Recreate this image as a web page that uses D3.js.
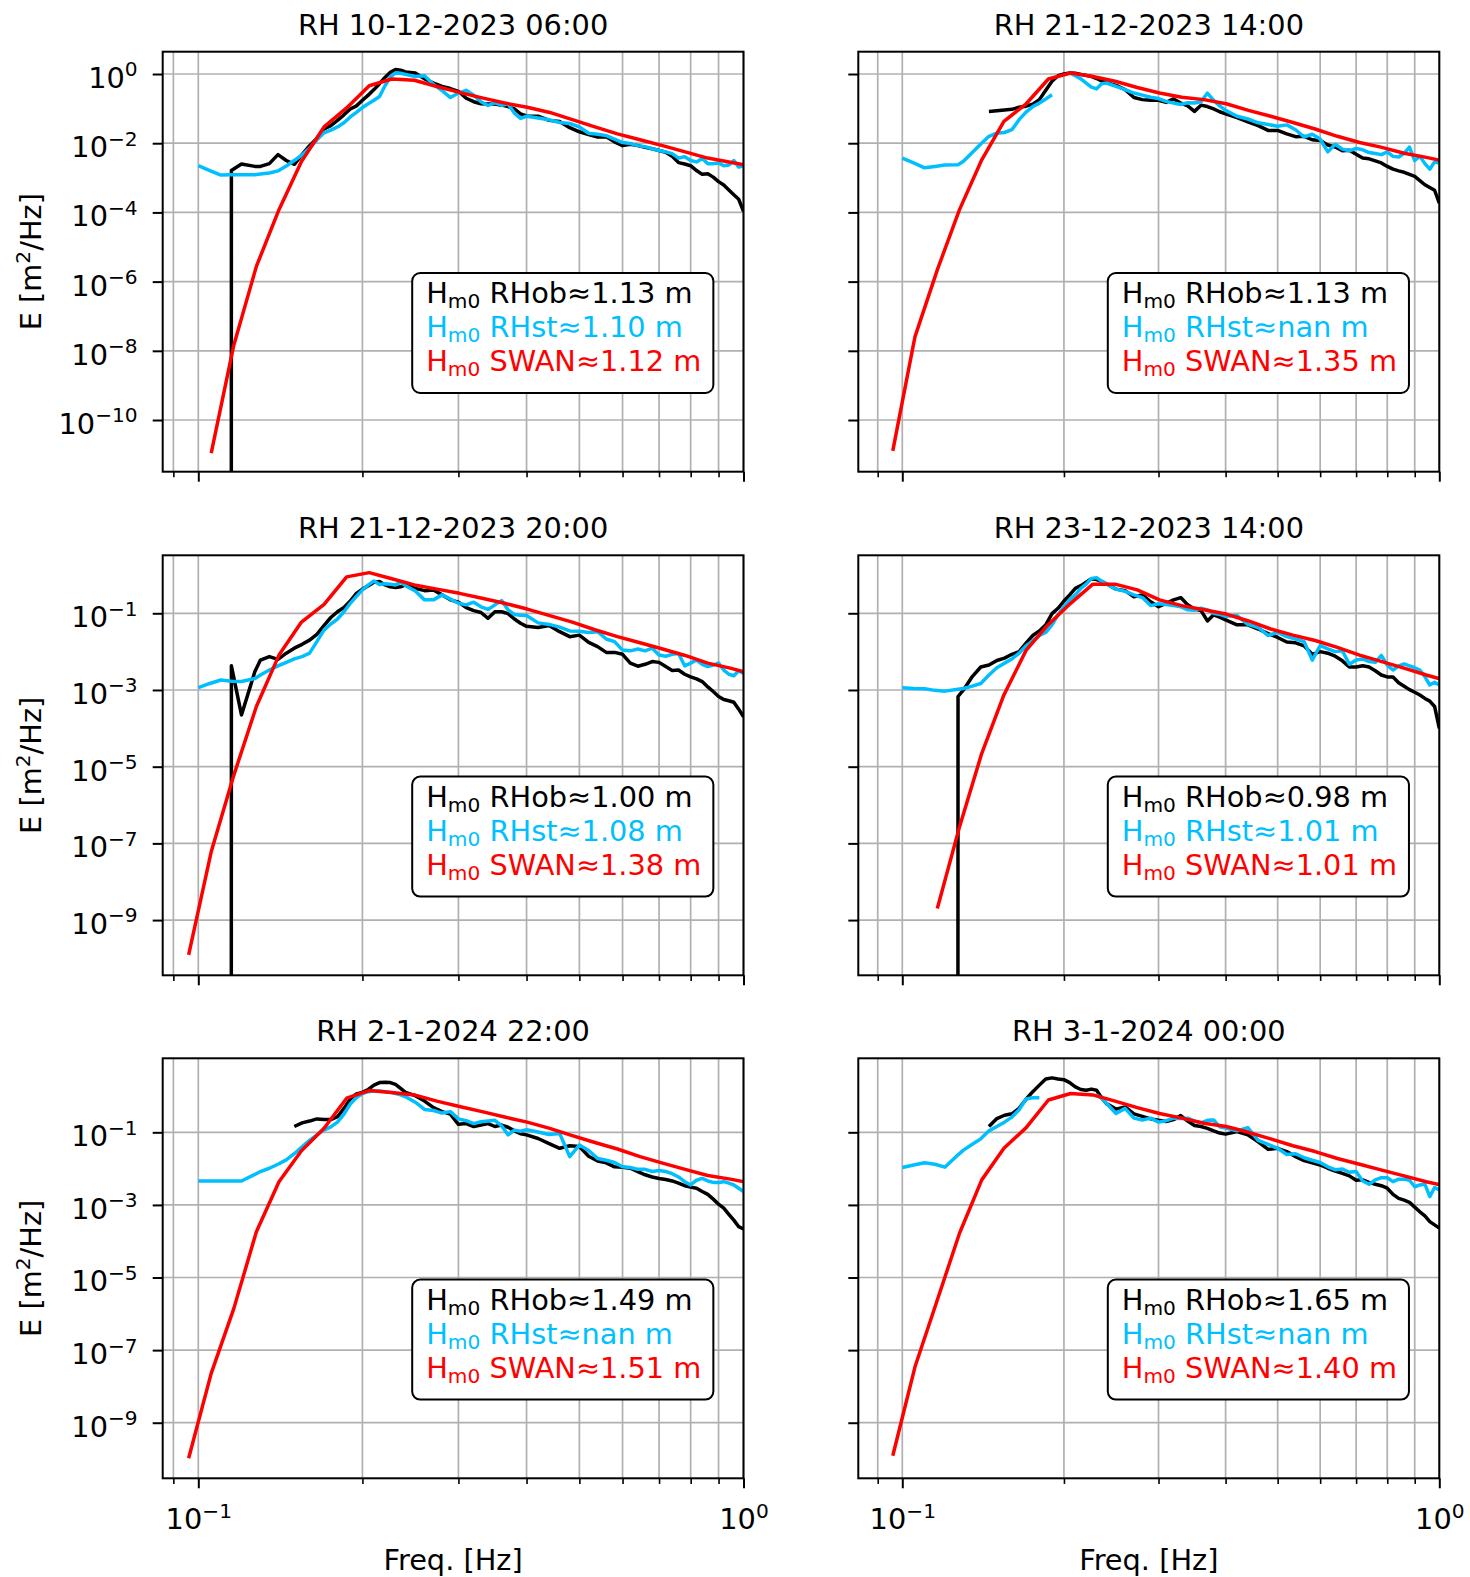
<!DOCTYPE html>
<html><head><meta charset="utf-8">
<script src="https://cdn.jsdelivr.net/npm/d3@7"></script>
<style>
body{margin:0;background:#fff;}
svg{display:block;font-family:"DejaVu Sans",sans-serif;}
</style></head><body>
<svg id="chart" width="1470" height="1577"></svg>
<script>
// ---------- DATA (energy density stored as log10(E [m^2/Hz]); -Infinity = zero density; null = missing) ----------
const obsFreq = [0.10,0.105,0.11,0.115,0.12,0.127,0.13,0.135,0.14,0.145,0.15,0.155,0.16,0.165,0.17,0.175,0.18,0.185,0.19,0.195,0.20,0.205,0.21,0.215,0.22,0.225,0.23,0.235,0.24,
 0.25,0.26,0.27,0.28,0.29,0.30,0.31,0.32,0.33,0.34,0.35,0.36,0.37,0.38,0.39,0.40,
 0.42,0.44,0.46,0.48,0.50,0.52,0.54,0.56,0.58,0.60,0.62,0.64,0.66,0.68,0.70,0.72,0.74,0.76,0.78,0.80,0.82,0.84,0.86,0.88,0.90,0.92,0.94,0.96,0.98,1.00];
const swanFreq = [0.0960,0.1056,0.1162,0.1278,0.1406,0.1546,0.1701,0.1871,0.2058,0.2264,0.2490,0.2739,0.3013,0.3315,0.3646,0.4011,0.4412,0.4853,0.5338,0.5872,0.6459,0.7105,0.7816,0.8597,0.9457,1.0403];

const obsLog1 = [null,null,-Infinity,-2.79,-2.60,-2.67,-2.67,-2.59,-2.33,-2.50,-2.61,-2.33,-2.07,-1.86,-1.59,-1.49,-1.34,-1.18,-1.01,-0.92,-0.76,-0.61,-0.45,-0.28,-0.10,0.05,0.13,0.11,0.06,
 0.03,-0.14,-0.26,-0.36,-0.42,-0.50,-0.70,-0.80,-0.86,-0.87,-0.87,-0.90,-0.94,-1.01,-1.15,-1.21,
 -1.22,-1.34,-1.37,-1.55,-1.67,-1.75,-1.82,-1.81,-1.96,-2.07,-2.03,-2.07,-2.12,-2.16,-2.21,-2.26,-2.38,-2.56,-2.60,-2.65,-2.79,-2.90,-2.88,-2.98,-3.11,-3.21,-3.35,-3.49,-3.62,-3.97];
const stLog1 = [-2.65,-2.79,-2.92,-2.91,-2.91,-2.91,-2.89,-2.86,-2.80,-2.66,-2.50,-2.34,-2.14,-1.90,-1.70,-1.62,-1.53,-1.41,-1.24,-1.11,-0.97,-0.86,-0.76,-0.65,-0.34,-0.09,0.03,0.02,-0.01,
 -0.07,-0.05,-0.30,-0.48,-0.68,-0.55,-0.47,-0.61,-0.80,-0.91,-0.83,-0.90,-0.87,-1.13,-1.28,-1.22,
 -1.27,-1.32,-1.40,-1.43,-1.53,-1.71,-1.74,-1.78,-1.88,-1.98,-2.01,-2.07,-2.10,-2.16,-2.21,-2.25,-2.30,-2.43,-2.39,-2.50,-2.54,-2.44,-2.59,-2.59,-2.57,-2.65,-2.63,-2.50,-2.69,-2.65];
const swanLog1 = [null,-10.96,-7.83,-5.56,-3.92,-2.53,-1.53,-0.98,-0.34,-0.145,-0.18,-0.36,-0.53,-0.69,-0.84,-0.96,-1.11,-1.32,-1.53,-1.73,-1.90,-2.07,-2.25,-2.43,-2.55,-2.67];

const obsLog2 = [null,null,null,null,null,null,null,null,null,-1.08,-1.06,-1.04,-1.02,-0.96,-0.93,-0.87,-0.74,-0.47,-0.21,-0.05,0.00,0.03,0.02,-0.01,-0.04,-0.07,-0.13,-0.20,-0.25,
 -0.33,-0.45,-0.68,-0.74,-0.76,-0.76,-0.82,-0.72,-0.84,-0.92,-1.08,-0.90,-0.94,-1.01,-1.09,-1.15,
 -1.26,-1.38,-1.49,-1.63,-1.63,-1.73,-1.81,-1.80,-1.90,-1.92,-2.05,-2.11,-2.22,-2.20,-2.32,-2.43,-2.45,-2.51,-2.57,-2.67,-2.75,-2.80,-2.84,-2.90,-2.96,-3.08,-3.20,-3.28,-3.36,-3.73];
const stLog2 = [-2.43,-2.57,-2.71,-2.67,-2.63,-2.62,-2.52,-2.27,-2.02,-1.80,-1.71,-1.69,-1.61,-1.32,-1.10,-0.94,-0.84,-0.72,-0.60,null,null,0.03,-0.05,-0.14,-0.26,-0.38,-0.43,-0.28,-0.26,
 -0.36,-0.45,-0.55,-0.61,-0.67,-0.71,-0.79,-0.84,-0.88,-0.83,-0.84,-0.80,-0.55,-0.76,-0.92,-1.05,
 -1.22,-1.30,-1.41,-1.46,-1.51,-1.47,-1.61,-1.82,-1.74,-1.88,-2.25,-2.03,-2.17,-2.22,-2.15,-2.19,-2.27,-2.30,-2.33,-2.25,-2.38,-2.40,-2.29,-2.11,-2.50,-2.38,-2.59,-2.75,-2.54,-2.57];
const swanLog2 = [-10.89,-7.59,-5.66,-3.92,-2.48,-1.37,-0.86,-0.145,0.03,-0.07,-0.21,-0.39,-0.55,-0.67,-0.74,-0.86,-1.05,-1.22,-1.40,-1.59,-1.80,-1.98,-2.12,-2.29,-2.41,-2.54];

const obsLog3 = [null,null,-Infinity,-2.37,-3.65,-2.52,-2.22,-2.13,-2.20,-2.04,-1.91,-1.81,-1.70,-1.55,-1.32,-1.11,-0.96,-0.85,-0.68,-0.48,-0.37,-0.28,-0.19,-0.17,-0.26,-0.31,-0.33,-0.31,-0.26,
 -0.35,-0.41,-0.39,-0.52,-0.65,-0.71,-0.85,-0.93,-0.98,-1.13,-0.96,-0.96,-1.01,-1.15,-1.26,-1.34,
 -1.37,-1.32,-1.48,-1.61,-1.57,-1.76,-1.87,-2.02,-2.02,-2.07,-2.30,-2.38,-2.33,-2.26,-2.28,-2.39,-2.49,-2.48,-2.59,-2.66,-2.71,-2.78,-2.92,-3.04,-3.17,-3.25,-3.28,-3.32,-3.50,-3.70];
const stLog3 = [-2.94,-2.83,-2.74,-2.77,-2.78,-2.70,-2.61,-2.48,-2.37,-2.28,-2.19,-2.13,-2.04,-1.74,-1.44,-1.28,-1.15,-0.96,-0.74,-0.56,-0.39,-0.26,-0.16,-0.25,-0.23,-0.24,-0.26,-0.19,-0.28,
 -0.42,-0.65,-0.65,-0.52,-0.63,-0.74,-0.78,-0.71,-0.83,-0.90,-0.78,-0.67,-0.91,-1.03,-1.05,-1.06,
 -1.25,-1.29,-1.36,-1.46,-1.47,-1.50,-1.48,-1.67,-1.74,-1.96,-1.98,-1.93,-1.98,-1.91,-2.09,-2.12,-2.07,-2.05,-2.37,-2.30,-2.22,-2.33,-2.39,-2.35,-2.30,-2.48,-2.59,-2.63,-2.50,-2.57];
const swanLog3 = [-9.91,-7.22,-5.22,-3.43,-2.09,-1.23,-0.77,-0.05,0.06,-0.10,-0.26,-0.37,-0.48,-0.61,-0.74,-0.89,-1.06,-1.23,-1.43,-1.61,-1.77,-1.93,-2.10,-2.30,-2.43,-2.59];

const obsLog4 = [null,null,null,null,-Infinity,-3.17,-3.00,-2.65,-2.40,-2.35,-2.23,-2.17,-2.07,-2.00,-1.78,-1.58,-1.46,-1.30,-1.01,-0.87,-0.68,-0.52,-0.35,-0.28,-0.19,-0.10,-0.12,-0.17,-0.23,
 -0.37,-0.41,-0.57,-0.52,-0.70,-0.83,-0.74,-0.65,-0.59,-0.78,-0.89,-0.93,-1.20,-1.04,-1.10,-1.17,
 -1.30,-1.30,-1.41,-1.53,-1.63,-1.75,-1.77,-1.85,-2.07,-2.00,-2.04,-2.12,-2.24,-2.40,-2.40,-2.37,-2.40,-2.50,-2.61,-2.66,-2.66,-2.81,-2.90,-2.99,-3.06,-3.13,-3.22,-3.29,-3.43,-4.00];
const stLog4 = [-2.94,-2.96,-2.97,-3.01,-3.03,-2.98,-2.96,-2.90,-2.83,-2.61,-2.42,-2.30,-2.19,-2.04,-1.85,-1.72,-1.58,-1.50,-1.30,-1.04,-0.83,-0.65,-0.52,-0.35,-0.24,-0.09,-0.07,-0.16,-0.23,
 -0.37,-0.43,-0.52,-0.59,-0.80,-0.75,-0.77,-0.80,-0.83,-0.91,-0.92,-0.87,-0.91,-1.00,-1.03,-1.08,
 -1.06,-1.29,-1.37,-1.58,-1.50,-1.61,-1.67,-1.74,-2.22,-1.84,-1.93,-2.00,-1.98,-2.33,-2.22,-2.19,-2.26,-2.28,-2.10,-2.35,-2.48,-2.37,-2.32,-2.37,-2.42,-2.48,-2.65,-2.87,-2.80,-2.87];
const swanLog4 = [null,null,-8.70,-6.57,-4.65,-3.13,-1.96,-1.29,-0.74,-0.24,-0.24,-0.39,-0.65,-0.80,-0.91,-1.02,-1.20,-1.41,-1.57,-1.71,-1.89,-2.09,-2.26,-2.43,-2.61,-2.77];

const obsLog5 = [null,null,null,null,null,null,null,null,null,null,-0.84,-0.74,-0.69,-0.63,-0.65,-0.65,-0.57,-0.34,-0.08,0.06,0.10,0.18,0.30,0.37,0.38,0.37,0.32,0.21,0.10,
 0.01,-0.14,-0.32,-0.43,-0.50,-0.78,-0.76,-0.84,-0.80,-0.76,-0.84,-0.80,-0.86,-0.96,-1.04,-1.07,
 -1.17,-1.31,-1.44,-1.37,-1.39,-1.66,-1.79,-1.84,-1.95,-1.96,-1.99,-2.08,-2.17,-2.23,-2.27,-2.30,-2.34,-2.40,-2.47,-2.51,-2.54,-2.63,-2.71,-2.84,-2.98,-3.09,-3.26,-3.42,-3.60,-3.66];
const stLog5 = [-2.34,-2.34,-2.34,-2.34,-2.34,-2.16,-2.08,-1.99,-1.88,-1.76,-1.59,-1.40,-1.22,-1.07,-0.94,-0.85,-0.72,-0.50,-0.22,-0.04,0.07,0.12,0.14,0.14,0.12,0.10,0.07,0.03,-0.02,
 -0.17,-0.37,-0.40,-0.47,-0.43,-0.63,-0.68,-0.76,-0.71,-0.69,-0.67,-0.82,-1.07,-0.94,-0.97,-0.93,
 -0.99,-1.06,-1.03,-1.67,-1.35,-1.50,-1.72,-1.77,-1.83,-1.95,-1.97,-2.02,-2.02,-2.08,-2.05,-2.08,-2.14,-2.23,-2.36,-2.45,-2.32,-2.27,-2.34,-2.38,-2.38,-2.36,-2.40,-2.45,-2.54,-2.63];
const swanLog5 = [-9.98,-7.64,-5.85,-3.74,-2.36,-1.51,-0.89,-0.06,0.15,0.10,0.03,-0.14,-0.29,-0.43,-0.58,-0.72,-0.89,-1.09,-1.28,-1.46,-1.67,-1.85,-2.02,-2.19,-2.29,-2.41];

const obsLog6 = [null,null,null,null,null,null,null,null,null,-0.84,-0.62,-0.53,-0.49,-0.34,-0.09,0.12,0.30,0.47,0.50,0.47,0.45,0.37,0.25,0.18,0.16,0.19,0.16,-0.05,-0.21,
 -0.36,-0.30,-0.49,-0.56,-0.63,-0.67,-0.70,-0.65,-0.54,-0.69,-0.81,-0.84,-0.89,-0.96,-1.02,-1.05,
 -0.98,-1.07,-1.26,-1.47,-1.44,-1.53,-1.67,-1.78,-1.84,-1.90,-1.99,-2.07,-2.13,-2.20,-2.32,-2.31,-2.38,-2.43,-2.47,-2.54,-2.71,-2.82,-2.87,-2.93,-3.06,-3.19,-3.30,-3.46,-3.55,-3.64];
const stLog6 = [-1.97,-1.90,-1.84,-1.88,-1.96,-1.62,-1.49,-1.33,-1.18,-0.96,-0.84,-0.72,-0.58,-0.38,-0.08,-0.05,-0.05,null,null,null,null,null,null,null,null,null,0.03,-0.06,-0.20,
 -0.48,-0.34,-0.61,-0.66,-0.61,-0.72,-0.68,-0.61,-0.62,-0.61,-0.69,-0.74,-0.67,-0.66,-0.85,-0.88,
 -0.96,-0.87,-1.22,-1.33,-1.44,-1.61,-1.59,-1.70,-1.77,-1.83,-1.95,-2.03,-2.01,-2.10,-2.08,-2.34,-2.43,-2.31,-2.25,-2.25,-2.36,-2.29,-2.29,-2.32,-2.50,-2.45,-2.43,-2.77,-2.52,-2.59];
const swanLog6 = [-9.91,-7.46,-5.62,-3.78,-2.31,-1.44,-0.87,-0.11,0.07,0.03,-0.14,-0.32,-0.48,-0.61,-0.75,-0.84,-1.00,-1.18,-1.37,-1.53,-1.72,-1.88,-2.04,-2.20,-2.36,-2.50];

const titles = ["RH 10-12-2023 06:00","RH 21-12-2023 14:00","RH 21-12-2023 20:00","RH 23-12-2023 14:00","RH 2-1-2024 22:00","RH 3-1-2024 00:00"];
const hm0Obs  = ["1.13","1.13","1.00","0.98","1.49","1.65"];
const hm0St   = ["1.10","nan","1.08","1.01","nan","nan"];
const hm0Swan = ["1.12","1.35","1.38","1.01","1.51","1.40"];
const seriesNames = ["RHob","RHst","SWAN"];
const yTickExp = [[0,-2,-4,-6,-8,-10],[-1,-3,-5,-7,-9],[-1,-3,-5,-7,-9]];
const xMajorTicks = [0.1, 1];
const xMajorTickExp = [-1, 0];
const xMinorTicks = [0.09,0.2,0.3,0.4,0.5,0.6,0.7,0.8,0.9];

const obsSets = [obsLog1,obsLog2,obsLog3,obsLog4,obsLog5,obsLog6];
const stSets = [stLog1,stLog2,stLog3,stLog4,stLog5,stLog6];
const swanSets = [swanLog1,swanLog2,swanLog3,swanLog4,swanLog5,swanLog6];

// ---------- LAYOUT ----------
const colX0 = [162.7, 858.3], plotW = [580.8, 581];
const rowY0 = [51.7, 555.3, 1058.3], plotH = 420;
const xDomains = [[0.08604, 1.0], [0.08281, 1.0]];
const yDomainExp = [[-11.494, 0.645], [-10.44, 0.512], [-10.531, 1.039]];
const COL = {obs:"#000000", st:"#00bfff", swan:"#ff0000"};
const FS = 28.8, FS_LEG = 28.8;

const svg = d3.select("#chart");
svg.append("rect").attr("width",1470).attr("height",1577).attr("fill","#fff");

function supText(sel, base, exp, fs){
  sel.text(null);
  sel.append("tspan").attr("font-size", fs).text(base);
  sel.append("tspan").attr("font-size", fs*0.7).attr("dy", -fs*0.4).text(exp < 0 ? "\u2212" + (-exp) : String(exp));
}

titles.forEach((title, i) => {
  const col = i % 2, row = Math.floor(i / 2);
  const W = plotW[col], H = plotH;
  const g = svg.append("g").attr("transform", `translate(${colX0[col]},${rowY0[row]})`);
  const x = d3.scaleLog().domain(xDomains[col]).range([0, W]);
  const y = d3.scaleLog().domain(yDomainExp[row].map(e => Math.pow(10, e))).range([H, 0]);

  const cid = "clip" + i;
  g.append("clipPath").attr("id", cid).append("rect").attr("width", W).attr("height", H);

  // grid
  const grid = g.append("g").attr("stroke", "#b0b0b0").attr("stroke-width", 1.7);
  grid.selectAll(".gx").data(xMajorTicks.concat(xMinorTicks)).join("line")
    .attr("x1", d => x(d)).attr("x2", d => x(d)).attr("y1", 0).attr("y2", H);
  grid.selectAll(".gy").data(yTickExp[row]).join("line")
    .attr("x1", 0).attr("x2", W).attr("y1", d => y(Math.pow(10, d))).attr("y2", d => y(Math.pow(10, d)));

  // series
  const yv = v => v === -Infinity ? H + 40000 : y(Math.pow(10, v));
  const line = d3.line().defined(d => d.v !== null).x(d => x(d.f)).y(d => yv(d.v));
  const lines = g.append("g").attr("clip-path", `url(#${cid})`).attr("fill", "none")
    .attr("stroke-width", 3.5).attr("stroke-linejoin", "round").attr("stroke-linecap", "butt");
  const mk = (fr, vals) => fr.map((f, k) => ({f, v: vals[k] === undefined ? null : vals[k]}));
  lines.append("path").attr("d", line(mk(obsFreq, obsSets[i]))).attr("stroke", COL.obs);
  lines.append("path").attr("d", line(mk(obsFreq, stSets[i]))).attr("stroke", COL.st);
  lines.append("path").attr("d", line(mk(swanFreq, swanSets[i]))).attr("stroke", COL.swan);

  // y axis
  const ya = g.append("g")
    .call(d3.axisLeft(y).tickValues(yTickExp[row].map(e => Math.pow(10, e))).tickSize(10).tickPadding(15).tickFormat(() => ""));
  ya.attr("font-size", FS).attr("font-family", "DejaVu Sans");
  ya.select(".domain").remove();
  ya.selectAll(".tick line").attr("stroke", "#000").attr("stroke-width", 2);
  ya.selectAll(".tick text").attr("fill", "#000").attr("dy", 0).attr("y", 13.4)
    .each(function(d){ if (col === 0) supText(d3.select(this), "10", Math.round(Math.log10(d)), FS); });

  // x axis
  const xa = g.append("g").attr("transform", `translate(0,${H})`)
    .call(d3.axisBottom(x).tickValues(xMajorTicks).tickSize(10).tickFormat(() => ""));
  xa.attr("font-size", FS).attr("font-family", "DejaVu Sans");
  xa.select(".domain").remove();
  xa.selectAll(".tick line").attr("stroke", "#000").attr("stroke-width", 2);
  xa.selectAll(".tick text").attr("fill", "#000").attr("dy", 0).attr("y", 51)
    .each(function(d, k){ if (row === 2) supText(d3.select(this), "10", xMajorTickExp[k], FS); });
  const xm = g.append("g").attr("transform", `translate(0,${H})`)
    .call(d3.axisBottom(x).tickValues(xMinorTicks).tickSize(5.6).tickFormat(() => ""));
  xm.select(".domain").remove();
  xm.selectAll(".tick line").attr("stroke", "#000").attr("stroke-width", 1.6);

  // spines
  g.append("rect").attr("width", W).attr("height", H).attr("fill", "none").attr("stroke", "#000").attr("stroke-width", 2);

  // title
  g.append("text").attr("x", W / 2).attr("y", -17).attr("text-anchor", "middle").attr("font-size", FS).attr("fill", "#000").text(title);

  // axis labels
  if (col === 0) {
    const yl = svg.append("text").attr("transform", `translate(41,${rowY0[row] + H / 2}) rotate(-90)`)
      .attr("text-anchor", "middle").attr("font-size", FS).attr("fill", "#000");
    yl.append("tspan").text("E [m");
    yl.append("tspan").attr("font-size", FS * 0.7).attr("dy", -11.5).text("2");
    yl.append("tspan").attr("dy", 11.5).text("/Hz]");
  }
  if (row === 2) {
    g.append("text").attr("x", W / 2).attr("y", 1570 - rowY0[row]).attr("text-anchor", "middle")
      .attr("font-size", FS).attr("fill", "#000").text("Freq. [Hz]");
  }

  // legend box
  const lg = g.append("g");
  const bx = 249.5, by = 221.3;
  const box = lg.append("rect").attr("x", bx).attr("y", by).attr("height", 120).attr("rx", 8).attr("ry", 8)
    .attr("fill", "#fff").attr("stroke", "#000").attr("stroke-width", 2);
  const vals = [hm0Obs[i], hm0St[i], hm0Swan[i]];
  const cols = [COL.obs, COL.st, COL.swan];
  let maxW = 0;
  seriesNames.forEach((nm, k) => {
    const t = lg.append("text").attr("x", bx + 14).attr("y", by + 30 + k * 34.2).attr("fill", cols[k]).attr("font-size", FS_LEG);
    t.append("tspan").text("H");
    t.append("tspan").attr("font-size", FS_LEG * 0.7).attr("dy", 5).text("m0");
    t.append("tspan").attr("dy", -5).text(` ${nm}\u2248${vals[k]} m`);
    maxW = Math.max(maxW, t.node().getComputedTextLength());
  });
  box.attr("width", maxW + 26);
});
</script></body></html>
